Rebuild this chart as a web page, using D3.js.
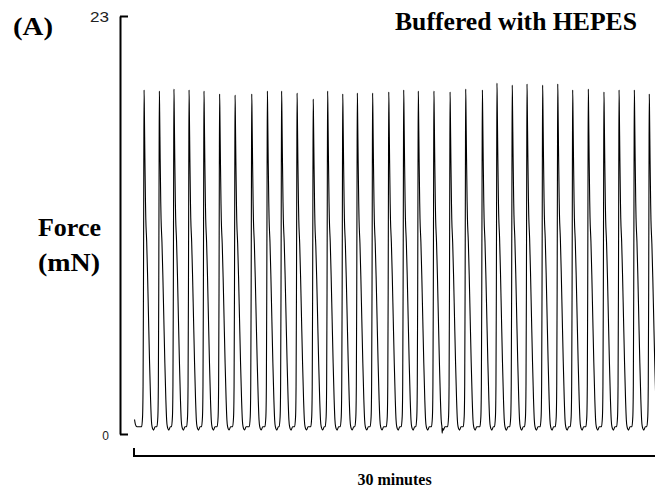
<!DOCTYPE html>
<html><head><meta charset="utf-8">
<script src="https://cdn.jsdelivr.net/npm/d3@7"></script>
<style>html,body{margin:0;padding:0;background:#fff;} svg{display:block;}</style>
</head><body><svg id="c" width="655" height="495"></svg>
<script>
// ---- data ----
// time of each contraction peak (minutes) and its peak force (mN)
const peakTimes = [0.58, 1.46, 2.30, 3.17, 4.03, 4.93, 5.82, 6.78, 7.68, 8.50, 9.39, 10.32, 11.15, 12.02, 12.86, 13.74, 14.67, 15.53, 16.37, 17.27, 18.20, 19.10, 20.06, 20.90, 21.78, 22.63, 23.53, 24.40, 25.26, 26.16, 27.06, 27.93, 28.81, 29.67];
const peakForces = [18.93, 18.87, 18.98, 18.93, 18.87, 18.71, 18.65, 18.71, 18.87, 18.87, 18.76, 18.43, 18.87, 18.71, 18.76, 18.76, 18.82, 18.93, 18.87, 18.87, 18.82, 18.98, 18.93, 19.31, 19.20, 19.26, 19.20, 19.26, 18.93, 18.98, 18.82, 18.93, 18.93, 18.71];
// shape of one contraction: seconds from peak, fraction of (peak - baseline)
const shapeSec  = [-8.6, -5.2, -3.5, -2.1, -1.0, 0, 1.0, 2.8, 4.8, 5.9, 9.0, 12.1, 15.5, 19.0, 22.5, 25.2, 27.6, 32.8, 38];
const shapeFrac = [0, 0.03, 0.12, 0.4, 0.75, 1, 0.94, 0.8, 0.67, 0.62, 0.55, 0.45, 0.32, 0.19, 0.08, 0.02, 0, -0.01, 0];
const baselineForce = 0.4;
const leadTimes = [0.03, 0.09, 0.17];
const leadForces = [0.8, 0.5, 0.4];
const artifactTimes = [17.71, 17.745, 17.78];
const artifactForces = [0.55, 0.05, 0.3];
const yTicks = [0, 23];
const timeSpan = [0, 30];
const scaleBarLabel = "30 minutes";
const panelLabel = "(A)";
const titleText = "Buffered with HEPES";
const yLabel = ["Force", "(mN)"];

// ---- build trace ----
let pts = [];
leadTimes.forEach((t, i) => pts.push({t, f: leadForces[i]}));
peakTimes.forEach((pt, k) => {
  const amp = peakForces[k] - baselineForce;
  shapeSec.forEach((s, j) => pts.push({t: pt + s / 60, f: baselineForce + amp * shapeFrac[j]}));
});
artifactTimes.forEach((t, i) => pts.push({t, f: artifactForces[i]}));
pts.sort((a, b) => a.t - b.t);

const svg = d3.select("#c");
const x = d3.scaleLinear().domain(timeSpan).range([134, 655]);
const y = d3.scaleLinear().domain([0, 23]).range([434, 16]);

svg.append("defs").append("clipPath").attr("id", "clip")
  .append("rect").attr("x", 133).attr("y", 0).attr("width", 530).attr("height", 445);

svg.append("path").datum(pts)
  .attr("clip-path", "url(#clip)")
  .attr("fill", "none").attr("stroke", "#000").attr("stroke-width", 1.1)
  .attr("d", d3.line().x(d => x(d.t)).y(d => y(d.f)).curve(d3.curveMonotoneX));

// y axis
const ax = svg.append("g").attr("transform", "translate(120,0)")
  .call(d3.axisLeft(y).tickValues(yTicks).tickSizeInner(-8).tickSizeOuter(0).tickPadding(11).tickFormat(d3.format("d")));
ax.select(".domain").attr("stroke", "#000").attr("stroke-width", 2);
ax.selectAll(".tick line").attr("stroke", "#000").attr("stroke-width", 2);
ax.selectAll(".tick text").attr("fill", "#222").attr("font-family", "Liberation Sans, Arial, sans-serif")
  .attr("font-size", d => d === 23 ? 14 : 12)
  .attr("dy", d => d === 23 ? "0.38em" : "0.42em")
  .attr("textLength", d => d === 23 ? 19 : null)
  .attr("lengthAdjust", "spacingAndGlyphs");

// scale bar
svg.append("path")
  .attr("d", `M${x(timeSpan[0])},448 V456 H${x(timeSpan[1])}`)
  .attr("fill", "none").attr("stroke", "#000").attr("stroke-width", 2);

const serif = "Liberation Serif, 'Times New Roman', serif";
svg.append("text").attr("x", (x(timeSpan[0]) + x(timeSpan[1])) / 2).attr("y", 485)
  .attr("text-anchor", "middle").attr("font-family", serif).attr("font-weight", "bold")
  .attr("font-size", 16).text(scaleBarLabel);

svg.append("text").attr("x", 13).attr("y", 35).attr("font-family", serif).attr("font-weight", "bold")
  .attr("font-size", 25).attr("textLength", 40).attr("lengthAdjust", "spacingAndGlyphs").text(panelLabel);

svg.append("text").attr("x", 395).attr("y", 30).attr("font-family", serif).attr("font-weight", "bold")
  .attr("font-size", 25).attr("textLength", 242).attr("lengthAdjust", "spacingAndGlyphs").text(titleText);

svg.append("text").attr("x", 38).attr("y", 236).attr("font-family", serif).attr("font-weight", "bold")
  .attr("font-size", 25).attr("textLength", 63).attr("lengthAdjust", "spacingAndGlyphs").text(yLabel[0]);
svg.append("text").attr("x", 38).attr("y", 271).attr("font-family", serif).attr("font-weight", "bold")
  .attr("font-size", 25).attr("textLength", 62).attr("lengthAdjust", "spacingAndGlyphs").text(yLabel[1]);
</script>
</body></html>
